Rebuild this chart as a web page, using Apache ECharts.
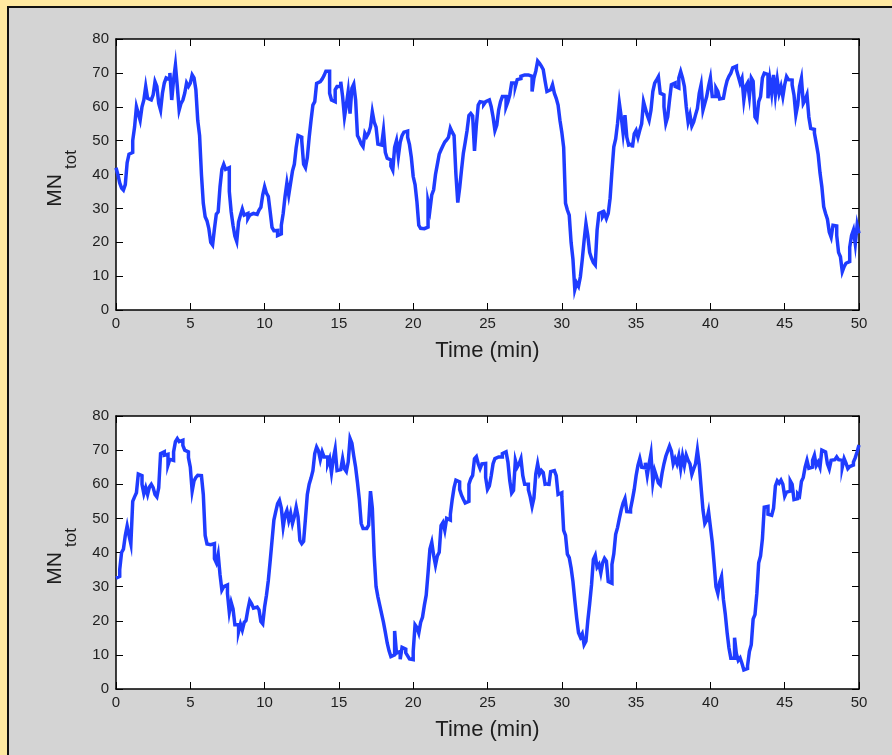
<!DOCTYPE html>
<html>
<head>
<meta charset="utf-8">
<script src="https://cdn.jsdelivr.net/npm/echarts@6/dist/echarts.min.js"></script>
<style>
  html, body { margin: 0; padding: 0; width: 892px; height: 755px; overflow: hidden; background: #ffe9a1; }
  #frame { position: absolute; left: 7px; top: 6px; right: 0; bottom: 0; background: #d4d4d4;
           border-left: 2px solid #111; border-top: 2px solid #111; }
  #chart { position: absolute; left: 0; top: 0; width: 892px; height: 755px; }
</style>
</head>
<body>
<div id="frame"></div>
<div id="chart"></div>
<script>
// Sampling interval of the simulated runs (minutes)
const STEP = 0.125;

// Axis ranges and tick spacing
const X_RANGE = [0, 50];
const X_TICK = 5;
const Y_RANGE = [0, 80];
const Y_TICK = 10;
const X_LABEL = 'Time (min)';
const Y_LABEL_MAIN = 'MN';
const Y_LABEL_SUB = 'tot';

// Total count MN_tot, run 1
const run1 = [
  42,40,37.5,36,35.4,37,43.5,46,46.5,50,
  54,60,58,56,60,62,66,62.5,62,62.5,
  63.5,67.4,66,61,59,64,67,68.5,68,70,
  62,68,72.3,66,59,61,62,64,67,66,
  67,69.4,68.5,65,56,51.5,40,31.5,27.5,26.3,
  24,20,19.2,24,28.3,29,36.4,41.5,43,41.5,
  42,35,29,25,21.8,20.2,26,28,29.8,28,
  28.5,27,28,28.5,28,28.2,28.7,29.5,30.3,34,
  36.4,34.5,33.5,29,24.4,23.4,23.5,22,22.5,25,
  28.5,33.5,37.5,34,37.5,41,43,48,51.5,51,
  50,43,42,45,51,56,60.5,61.5,66.9,67.4,
  67,68.2,69.2,70.5,70.5,64,62,61.5,65,66,
  66,67.4,63,57,60.5,64.5,58,65.5,66.7,62,
  51.5,50.4,49,48.2,52.2,51.2,52.2,54,58.5,55.5,
  54,49,48.7,48.7,53,46.5,44.8,44.3,42.5,41.3,
  48,50,45.3,49.5,51.5,52.5,52.8,51,48.8,45,
  39.4,37,32,25,24.1,24,24,24.5,32,29.5,
  34,35.5,40,43,46,47.3,48.5,49.6,50.2,51,
  53.7,52.5,51.5,40,31.7,36,41.3,46.3,49.5,53,
  57.4,58,57.3,47,54.5,60.5,61.5,61.3,60.7,61.5,
  62,62.5,60,57,53,54.6,59,61.5,63,63,
  60,61.5,63.5,67,67,66,68,68.3,69,69.4,
  69.4,69.4,69,69,64.5,68.5,70.5,73.5,72.8,72,
  71,67.6,64.5,65,65,66.5,64,62.5,60.5,56,
  52.5,48,31.5,29.5,28,20,15,6,8,7,
  9.8,14.8,20.5,25.5,22,17,15.3,14,13.3,23.6,
  28.5,29,27.6,28.5,27,28.5,33,41,48.2,50.5,
  55,61,57,52.2,57.5,51,48.7,49,48,52,
  53,51,53.1,55,61.5,59.5,57.5,56,59,64.5,
  67,67.9,68.9,64,63.5,60,55.1,57,62,66.5,
  67,66,65.5,68.5,70.4,68.5,66,60,55.5,57.6,
  54.3,55.5,57.6,59.5,64,66.5,59,61,63,66,
  68.5,63,63,65.5,64.5,62.3,62.5,63,65.5,67.7,
  69,69.9,71.5,72,71,69,67,68.4,62,66,
  67,63,68.5,67.5,57,56.1,61.5,63,68.5,69.9,
  69.5,62.5,68,64,69.4,63.5,68,64,66,63,
  66.5,68.9,68,67.9,66.5,63.5,57.6,60.5,66,68.4,
  61,62,63.5,57,53.6,53.3,52.2,49.2,46,40.5,
  36.4,30.5,28.5,26.8,23,21.5,25,24.8,22,17,
  15.7,11.3,12.8,13.8,14.3,18.5,22,23.6,19.5,25.1,
  22.6
];

// Total count MN_tot, run 2
const run2 = [
  32.5,33,35,40,41,45,47.8,45,42.5,55,
  56.3,57.5,63,62.5,60,57.2,59,57,59.2,60,
  59,57,56.3,59,69,69.5,68.5,68.8,65.6,67.3,
  67,69.5,72.5,73.4,72.5,72.9,71.4,70,69.5,67.8,
  65,58,61,62,62.6,62.5,63,57,45,42.5,
  42.3,41.8,42.6,38.2,37,39.5,33.5,29,30,30.5,
  28,22.5,25.4,23.5,18.8,18.8,16.8,19,17.3,19.5,
  20.1,23.3,25.9,25,23.7,24,24,23.2,19.8,19.1,
  24,27.5,31.8,37.5,43.5,49.5,52,54.3,55.3,53,
  47.5,50.9,52.3,49.4,51.5,48.5,50.5,53.3,50.5,43.5,
  42.6,43.3,50,57,60,61.8,64,69,70.9,69.8,
  67.2,69.5,68,68,66,67.5,63.4,67.5,70.3,64,
  64.3,64.5,67.5,64.5,63.7,66.5,73.4,72,68.3,65,
  60.5,55.5,48.5,47,47,47.5,48,58,53,39,
  30,27,24.5,22,19.5,16.6,13.5,11.2,9.5,10,
  17,10.5,11,8.7,12.2,11.7,10.6,9.7,8.8,8.6,
  11,18.8,18,16.4,19.5,21,24.5,27.5,34,41,
  43,39.2,36.3,39,40.1,47.9,48.8,46.5,50,49.5,
  51.2,55.5,59,61.2,60.7,58.5,56.8,55.6,54.5,55,
  60,61.6,62.6,67.5,68.1,66,64.6,66,66.1,62,
  58.5,59.5,62.5,66,67.5,68,68.5,68,69,69.5,
  69,66.5,61,57.4,58.2,67,65,66,67.5,62.5,
  60,60,58.4,56.3,53.5,56,63,66,63,64,
  63.4,60,60.2,59.5,63.7,64,63.5,62.5,57,57.5,
  56.5,46.5,45,39.5,38.5,35.5,31.5,26,20.8,16.5,
  15.2,16.2,13,14,20,25,30.5,38,39.2,35.7,
  36.5,34,37,38.3,37.5,31.5,31,36.5,39.6,45.3,
  47.3,50,52.5,54.5,55.8,52,51.9,52.8,55.5,58.5,
  62.5,65.5,67.5,65,64.8,66.3,62.6,66,69,60.5,
  64,62.3,60.4,59.8,63.3,66,68.2,69.7,71.2,69.7,
  66,67.5,66,68.3,64.6,68.3,65.5,68.5,67,66,
  62.9,64.5,66,70,65.7,59,52.5,48.5,49.5,52,
  47.5,43,36.7,30,28,31.3,33,26.3,22,16.5,
  12,9,9,15,10.3,8.4,9.1,7.5,5.6,6,
  6.8,11,13,20.5,21.8,28,37,39,44,53.3,
  53.5,51.2,50.9,50.9,53,59.5,61,60.3,61.2,60,
  56.5,57.7,58,61,60,55.5,55.8,57.2,56.6,60.8,
  62,65,67,64.7,65,67,68.5,65.5,66.5,65,
  70,69.5,69,66,64.5,67,67.2,67.6,68,67.2,
  67,65,67.5,66.2,64.6,65.2,65.6,66.5,67.8,69.5,
  71.5
];

const FONT = '"Liberation Sans", Arial, Helvetica, sans-serif';
const INK = '#1e1e1e';
const LINE_BLUE = '#1f3cff';

// Plot boxes of the two panels
const GRIDS = [
  { left: 116, top: 39, width: 743, height: 271 },
  { left: 116, top: 416, width: 743, height: 273 }
];

const toPairs = vals => vals.map((v, i) => [i * STEP, v]);

function xAxes(gi) {
  const common = {
    gridIndex: gi, type: 'value', min: X_RANGE[0], max: X_RANGE[1], interval: X_TICK,
    axisLine: { show: true, onZero: false, lineStyle: { color: '#000', width: 1.5 } },
    axisTick: { show: true, inside: true, length: 7, lineStyle: { color: '#000', width: 1 } },
    splitLine: { show: false }
  };
  return [
    Object.assign({}, common, {
      position: 'bottom',
      axisLabel: { margin: 6, color: INK, fontSize: 15, fontFamily: FONT },
      name: X_LABEL, nameLocation: 'middle', nameGap: 30,
      nameTextStyle: { fontSize: 22, color: INK, fontFamily: FONT }
    }),
    Object.assign({}, common, { position: 'top', axisLabel: { show: false } })
  ];
}

function yAxes(gi) {
  const common = {
    gridIndex: gi, type: 'value', min: Y_RANGE[0], max: Y_RANGE[1], interval: Y_TICK,
    axisLine: { show: true, onZero: false, lineStyle: { color: '#000', width: 1.5 } },
    axisTick: { show: true, inside: true, length: 7, lineStyle: { color: '#000', width: 1 } },
    splitLine: { show: false }
  };
  return [
    Object.assign({}, common, {
      position: 'left',
      axisLabel: { margin: 7, color: INK, fontSize: 15, fontFamily: FONT }
    }),
    Object.assign({}, common, { position: 'right', axisLabel: { show: false } })
  ];
}

// Rotated y-axis title with a subscript, placed beside each plot box
function yTitle(g) {
  const cy = g.top + g.height / 2;
  return [
    { type: 'text', x: g.left - 61, y: cy + 16, rotation: Math.PI / 2, silent: true,
      style: { text: Y_LABEL_MAIN, fontSize: 21, fontFamily: FONT, fill: INK,
               align: 'center', verticalAlign: 'middle' } },
    { type: 'text', x: g.left - 45, y: cy - 15, rotation: Math.PI / 2, silent: true,
      style: { text: Y_LABEL_SUB, fontSize: 17, fontFamily: FONT, fill: INK,
               align: 'center', verticalAlign: 'middle' } }
  ];
}

const chart = echarts.init(document.getElementById('chart'), null, { renderer: 'canvas' });
chart.setOption({
  animation: false,
  backgroundColor: 'transparent',
  grid: GRIDS.map(g => Object.assign({ show: true, backgroundColor: '#fff', borderWidth: 0 }, g)),
  xAxis: [...xAxes(0), ...xAxes(1)],
  yAxis: [...yAxes(0), ...yAxes(1)],
  graphic: [...yTitle(GRIDS[0]), ...yTitle(GRIDS[1])],
  series: [
    { type: 'line', step: 'end', xAxisIndex: 0, yAxisIndex: 0, data: toPairs(run1), showSymbol: false,
      lineStyle: { color: LINE_BLUE, width: 3.5, join: 'miter' } },
    { type: 'line', step: 'end', xAxisIndex: 2, yAxisIndex: 2, data: toPairs(run2), showSymbol: false,
      lineStyle: { color: LINE_BLUE, width: 3.5, join: 'miter' } }
  ]
});
</script>
</body>
</html>
